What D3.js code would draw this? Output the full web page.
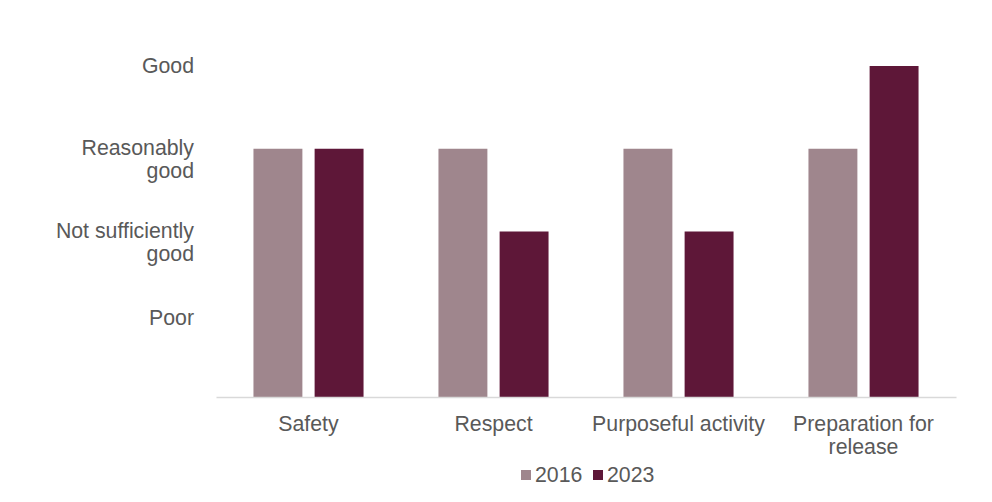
<!DOCTYPE html>
<html>
<head>
<meta charset="utf-8">
<script src="https://cdn.jsdelivr.net/npm/d3@7"></script>
<style>
    body { margin: 0; background: #ffffff; }
    text { font-family: "Liberation Sans", Arial, sans-serif; fill: #595959; }
</style>
</head>
<body>
<svg id="chart" width="992" height="502"></svg>
<script>
// Chart data
const categories = ["Safety", "Respect", "Purposeful activity", "Preparation for release"];
const categoryLines = [["Safety"], ["Respect"], ["Purposeful activity"], ["Preparation for", "release"]];
const series = ["2016", "2023"];
const values2016 = [3, 3, 3, 3];
const values2023 = [3, 2, 2, 4];
const ratingValues = [1, 2, 3, 4];
const ratingLines = [["Poor"], ["Not sufficiently", "good"], ["Reasonably", "good"], ["Good"]];

const colors = { "2016": "#9f868d", "2023": "#5e1738" };
const fontSize = 21.3;

const width = 992;
const height = 502;
const margin = { top: 66, right: 36, bottom: 105, left: 216 };
const innerWidth = width - margin.left - margin.right;
const innerHeight = height - margin.top - margin.bottom;

const svg = d3.select("#chart");

const innerChart = svg.append("g")
    .attr("transform", `translate(${margin.left},${margin.top})`);

// Scales
const xScale = d3.scaleBand()
    .domain(categories)
    .range([0, innerWidth])
    .paddingInner(0.405)
    .paddingOuter(0.2025);

const xSub = d3.scaleBand()
    .domain(series)
    .range([0, xScale.bandwidth()])
    .paddingInner(0.2);

const yScale = d3.scaleLinear()
    .domain([0, 4])
    .range([innerHeight, 0]);

// Bars
const rows = categories.map((c, i) => ({
    category: c,
    values: [
        { key: "2016", value: values2016[i] },
        { key: "2023", value: values2023[i] }
    ]
}));

innerChart.selectAll("g.group")
    .data(rows)
    .join("g")
    .attr("class", "group")
    .attr("transform", d => `translate(${xScale(d.category)},0)`)
    .selectAll("rect")
    .data(d => d.values)
    .join("rect")
    .attr("x", d => xSub(d.key))
    .attr("y", d => yScale(d.value))
    .attr("width", xSub.bandwidth())
    .attr("height", d => innerHeight - yScale(d.value))
    .attr("fill", d => colors[d.key]);

// Bottom axis
const bottomAxis = d3.axisBottom(xScale).tickSize(0).tickPadding(0);
const xAxisG = innerChart.append("g")
    .attr("transform", `translate(0, ${innerHeight})`)
    .call(bottomAxis);
xAxisG.select(".domain").attr("stroke", "#d9d9d9").attr("stroke-width", 1.5);
xAxisG.selectAll(".tick text").each(function(d, i) {
    const t = d3.select(this).text(null)
        .attr("font-size", fontSize)
        .attr("fill", "#595959")
        .attr("y", 0)
        .attr("dy", null);
    categoryLines[i].forEach((line, j) => {
        t.append("tspan").attr("x", 0).attr("y", 34 + j * 23).text(line);
    });
});

// Left axis (labels only)
const leftAxis = d3.axisLeft(yScale).tickValues(ratingValues).tickSize(0).tickPadding(0);
const yAxisG = innerChart.append("g").call(leftAxis);
yAxisG.select(".domain").remove();
yAxisG.selectAll(".tick text").each(function(d, i) {
    const t = d3.select(this).text(null)
        .attr("font-size", fontSize)
        .attr("fill", "#595959")
        .attr("text-anchor", "end")
        .attr("x", -22)
        .attr("dy", null);
    // the single-line "Poor" label sits a few pixels lower in the original
    const shift = d === 1 ? 4 : 0;
    ratingLines[i].forEach((line, j) => {
        t.append("tspan").attr("x", -22).attr("y", 6 + shift + j * 23).text(line);
    });
});

// Legend
const legend = svg.append("g").attr("transform", "translate(521, 470)");
const legendX = [0, 72];
series.forEach((s, i) => {
    const g = legend.append("g").attr("transform", `translate(${legendX[i]},0)`);
    g.append("rect").attr("width", 10).attr("height", 10).attr("fill", colors[s]);
    g.append("text")
        .attr("x", 14)
        .attr("y", 12)
        .attr("font-size", fontSize)
        .text(s);
});
</script>
</body>
</html>
